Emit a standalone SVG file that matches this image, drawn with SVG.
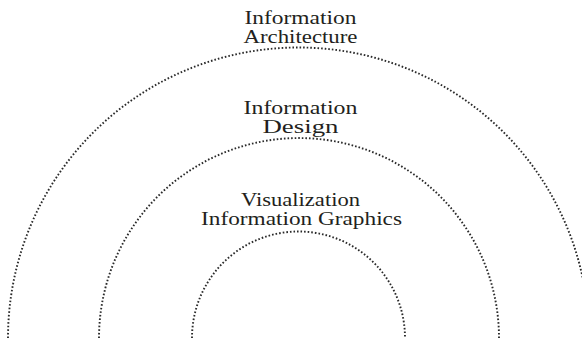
<svg xmlns="http://www.w3.org/2000/svg" width="582" height="339" viewBox="0 0 582 339">
<style>
.arc{fill:none;stroke:#2a2a2a;stroke-width:1.9;stroke-dasharray:1.6 2}
.t{font-family:"Liberation Serif","Times New Roman",serif;font-size:18px;fill:#231f20;text-anchor:middle}
</style>
<rect width="582" height="339" fill="#fff"/>
<g id="connectors">
<path id="arc-outer" class="arc" d="M 8 338 A 290.5 290.5 0 0 1 589 338"/>
<path id="arc-middle" class="arc" d="M 99 338 A 200 200 0 0 1 499 338"/>
<path id="arc-inner" class="arc" d="M 192 338 A 106.5 106.5 0 0 1 405 338"/>
</g>
<g id="node-ia">
<text class="t" x="300.5" y="24" textLength="112" lengthAdjust="spacingAndGlyphs">Information</text>
<text class="t" x="300.5" y="43" textLength="114" lengthAdjust="spacingAndGlyphs">Architecture</text>
</g>
<g id="node-id">
<text class="t" x="300.5" y="114" textLength="114" lengthAdjust="spacingAndGlyphs">Information</text>
<text class="t" x="300.5" y="133" textLength="76" lengthAdjust="spacingAndGlyphs">Design</text>
</g>
<g id="node-vis">
<text class="t" x="300.5" y="206" textLength="119" lengthAdjust="spacingAndGlyphs">Visualization</text>
<text class="t" x="301.5" y="225" textLength="201" lengthAdjust="spacingAndGlyphs">Information Graphics</text>
</g>
</svg>
